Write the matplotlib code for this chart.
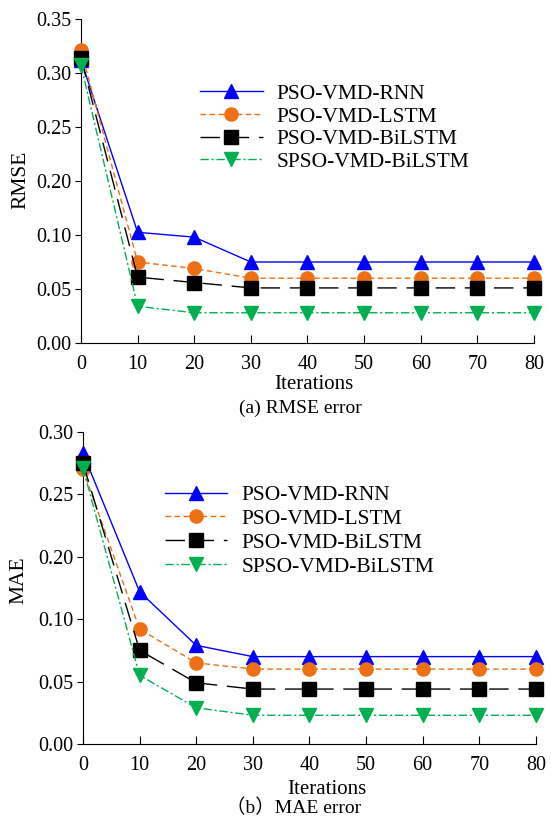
import numpy as np
import matplotlib
matplotlib.use('Agg')
import matplotlib.pyplot as plt

plt.rcParams['font.family'] = ['Liberation Serif', 'Noto Sans CJK SC']

iterations = [0, 10, 20, 30, 40, 50, 60, 70, 80]
models = ['PSO-VMD-RNN', 'PSO-VMD-LSTM', 'PSO-VMD-BiLSTM', 'SPSO-VMD-BiLSTM']

rmse_rnn = [0.312, 0.105, 0.098, 0.075, 0.075, 0.075, 0.075, 0.075, 0.075]
rmse_lstm = [0.321, 0.075, 0.069, 0.060, 0.060, 0.060, 0.060, 0.060, 0.060]
rmse_bilstm = [0.314, 0.061, 0.056, 0.051, 0.051, 0.051, 0.051, 0.051, 0.051]
rmse_spso = [0.307, 0.034, 0.028, 0.028, 0.028, 0.028, 0.028, 0.028, 0.028]

mae_rnn = [0.283, 0.144, 0.079, 0.070, 0.070, 0.070, 0.070, 0.070, 0.070]
mae_lstm = [0.270, 0.092, 0.065, 0.060, 0.060, 0.060, 0.060, 0.060, 0.060]
mae_bilstm = [0.275, 0.075, 0.049, 0.044, 0.044, 0.044, 0.044, 0.044, 0.044]
mae_spso = [0.271, 0.055, 0.029, 0.023, 0.023, 0.023, 0.023, 0.023, 0.023]

rmse_ticks = [0.00, 0.05, 0.10, 0.20, 0.25, 0.30, 0.35]
mae_ticks = [0.00, 0.05, 0.10, 0.20, 0.25, 0.30]

# axis of the original skips from 0.10 to 0.20 in one step
def fwd(y):
    return np.interp(y, [-1.0, 0.10, 0.20, 2.0], [-1.0, 0.10, 0.15, 1.95])

def inv(y):
    return np.interp(y, [-1.0, 0.10, 0.15, 1.95], [-1.0, 0.10, 0.20, 2.0])

styles = [
    dict(color='#0000FF', marker='^', linestyle='-'),
    dict(color='#EE7014', marker='o', linestyle=(0, (4, 2.5))),
    dict(color='#000000', marker='s', linestyle=(0, (14, 7))),
    dict(color='#00B050', marker='v', linestyle=(0, (6, 2, 1.5, 2))),
]

fig = plt.figure(figsize=(5.51, 8.19), dpi=100)
ax1 = fig.add_axes([0.147, 0.5812, 0.822, 0.3956])
ax2 = fig.add_axes([0.1506, 0.0916, 0.822, 0.381])

def draw(ax, series, ticks, ylabel, leg_xy, leg_space, ylab_xy, xlab_xy):
    ax.set_yscale('function', functions=(fwd, inv))
    for vals, name, st in zip(series, models, styles):
        ax.plot(iterations, vals, label=name, linewidth=1.0, markersize=9.5,
                clip_on=False, zorder=3, **st)
    ax.set_xlim(0, 80)
    ax.set_ylim(0, ticks[-1])
    ax.set_xticks(iterations)
    ax.set_yticks(ticks)
    ax.set_yticklabels(['%.2f' % t for t in ticks])
    ax.minorticks_off()
    ax.spines['top'].set_visible(False)
    ax.spines['right'].set_visible(False)
    ax.tick_params(axis='x', direction='in', length=6, labelsize=14.5, pad=9)
    ax.tick_params(axis='y', direction='out', length=4, labelsize=14.5, pad=3)
    ax.set_xlabel('Iterations', fontsize=15)
    ax.set_ylabel(ylabel, fontsize=15.5)
    ax.xaxis.set_label_coords(*xlab_xy)
    ax.yaxis.set_label_coords(*ylab_xy)
    ax.legend(loc='upper left', bbox_to_anchor=leg_xy, frameon=False, fontsize=15.5,
              numpoints=1, handlelength=2.9, handletextpad=0.65, labelspacing=leg_space,
              borderpad=0, borderaxespad=0)

draw(ax1, [rmse_rnn, rmse_lstm, rmse_bilstm, rmse_spso], rmse_ticks, 'RMSE',
     (0.263, 0.800), 0.12, (-0.112, 0.503), (0.514, -0.098))
draw(ax2, [mae_rnn, mae_lstm, mae_bilstm, mae_spso], mae_ticks, 'MAE',
     (0.181, 0.830), 0.18, (-0.121, 0.526), (0.539, -0.114))

fig.text(300 / 551, 1 - 408 / 819, '(a) RMSE error', fontsize=14, ha='center', va='center')
fig.text(294 / 551, 1 - 808 / 819, '（b）MAE error', fontsize=14, ha='center', va='center')

fig.savefig('out.png', dpi=100)
